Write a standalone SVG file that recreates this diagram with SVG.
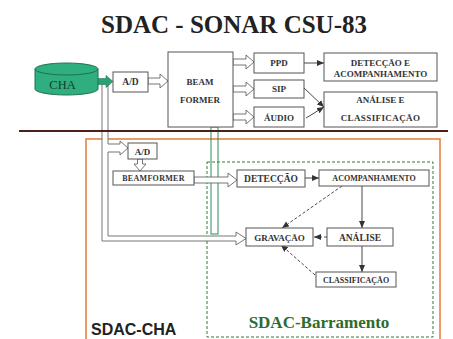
<svg xmlns="http://www.w3.org/2000/svg" width="453" height="339" viewBox="0 0 453 339">
<defs>
<marker id="ah" markerUnits="userSpaceOnUse" markerWidth="8" markerHeight="6" refX="7" refY="3" orient="auto"><path d="M0,0 L7,3 L0,6 z" fill="#333"/></marker>
<style>
.box{fill:#fff;stroke:#555;stroke-width:1}
.t{font-family:'Liberation Serif',serif;font-weight:bold;fill:#333;text-anchor:middle}
.hol{fill:#fff;stroke:#666;stroke-width:0.9}
.ln{fill:none;stroke:#333;stroke-width:0.9}
.dl{fill:none;stroke:#333;stroke-width:0.9;stroke-dasharray:3,2}
</style>
</defs>
<rect width="453" height="339" fill="#fff"/>
<text x="234" y="33" class="t" style="font-size:25px;fill:#222">SDAC - SONAR CSU-83</text>

<rect x="86" y="139" width="354" height="210" fill="none" stroke="#e5843f" stroke-width="1.6"/>
<rect x="207" y="162" width="226" height="175" fill="none" stroke="#2e7d32" stroke-width="1" stroke-dasharray="3,2"/>

<g id="connectors">
<path class="hol" d="M102,84 V241 H236 V245 L246,238.5 L236,232 V236 H108 V152 H120 V155 L128,148 L120,141 V144 H108 V84"/>
<rect x="211" y="127" width="7" height="107" fill="none" stroke="#2e8b57" stroke-width="1"/>
<path class="hol" d="M148,78 H160 V74 L168,81 L160,88 V84 H148 Z"/>
<path class="hol" d="M233,59 H246 V55 L254,62 L246,69 V65 H233 Z"/>
<path class="hol" d="M233,86 H246 V82 L254,89 L246,96 V92 H233 Z"/>
<path class="hol" d="M233,114 H246 V110 L254,117 L246,124 V120 H233 Z"/>
<path class="hol" d="M137.5,159 V164 H134 L140,171 L146,164 H142.5 V159 Z"/>
<path class="hol" d="M194,177 H228 V173 L237,180 L228,187 V183 H194 Z"/>
<path d="M97,78.5 H106 V75.5 L113,81.5 L106,87.5 V84.5 H97 Z" fill="#2aa172" stroke="#1d7a55" stroke-width="0.6"/>
<line class="ln" x1="304" y1="63" x2="324" y2="63" marker-end="url(#ah)"/>
<line class="ln" x1="304" y1="88" x2="324" y2="107" marker-end="url(#ah)"/>
<line class="ln" x1="306" y1="118" x2="324" y2="107" marker-end="url(#ah)"/>
<line class="ln" x1="305" y1="178" x2="319" y2="178" marker-end="url(#ah)"/>
<line class="ln" x1="362" y1="186" x2="362" y2="228" marker-end="url(#ah)"/>
<line class="ln" x1="362" y1="246" x2="362" y2="272" marker-end="url(#ah)"/>
<line class="dl" x1="342" y1="186" x2="282" y2="228" marker-end="url(#ah)"/>
<line class="dl" x1="327" y1="237" x2="314" y2="237" marker-end="url(#ah)"/>
<line class="dl" x1="315" y1="275" x2="281" y2="245" marker-end="url(#ah)"/>
</g>

<line x1="19" y1="131" x2="448" y2="131" stroke="#4a2018" stroke-width="2"/>

<g id="cha">
<path d="M35,69 V89 A31.5,6 0 0 0 98,89 V69" fill="#2fae80" stroke="#1d7050" stroke-width="1"/>
<ellipse cx="66.5" cy="69" rx="31.5" ry="6" fill="#2fae80" stroke="#1d7050" stroke-width="1"/>
<text x="62.5" y="89" class="t" style="font-size:12.5px;fill:#1a3a2a;font-weight:normal">CHA</text>
</g>
<g id="ad1"><rect class="box" x="113" y="72" width="35" height="20"/><text x="130.5" y="85" class="t" style="font-size:9.5px">A/D</text></g>
<g id="beamformer1"><rect class="box" x="168" y="52" width="65" height="75"/><text x="200" y="85" class="t" style="font-size:9px">BEAM</text><text x="200" y="103" class="t" style="font-size:9px">FORMER</text></g>
<g id="ppd"><rect class="box" x="254" y="53" width="50" height="20"/><text x="279" y="66" class="t" style="font-size:9px">PPD</text></g>
<g id="sip"><rect class="box" x="254" y="80" width="50" height="18"/><text x="279" y="92" class="t" style="font-size:9px">SIP</text></g>
<g id="audio"><rect class="box" x="254" y="107" width="50" height="20"/><text x="279" y="120.5" class="t" style="font-size:9px">ÁUDIO</text></g>
<g id="detacomp"><rect class="box" x="324" y="53" width="113" height="28"/><text x="380.5" y="66" class="t" style="font-size:9px">DETECÇÃO E</text><text x="380.5" y="77" class="t" style="font-size:9px">ACOMPANHAMENTO</text></g>
<g id="analclass"><rect class="box" x="324" y="92" width="113" height="35"/><text x="380.5" y="103" class="t" style="font-size:9px">ANÁLISE E</text><text x="380.5" y="121" class="t" style="font-size:9px;letter-spacing:0.4px">CLASSIFICAÇÃO</text></g>

<g id="ad2"><rect class="box" x="128" y="143" width="29" height="16"/><text x="142.5" y="154.5" class="t" style="font-size:9px">A/D</text></g>
<g id="beamformer2"><rect class="box" x="113" y="171" width="81" height="14"/><text x="153.5" y="181" class="t" style="font-size:8px;letter-spacing:0.3px">BEAMFORMER</text></g>
<g id="deteccao"><rect class="box" x="237" y="170" width="68" height="17"/><text x="271" y="182" class="t" style="font-size:9.5px">DETECÇÃO</text></g>
<g id="acomp"><rect class="box" x="319" y="170" width="110" height="16"/><text x="374" y="181" class="t" style="font-size:8px">ACOMPANHAMENTO</text></g>
<g id="gravacao"><rect class="box" x="246" y="228" width="67" height="18"/><text x="279.5" y="240.5" class="t" style="font-size:9px">GRAVAÇÃO</text></g>
<g id="analise"><rect class="box" x="327" y="228" width="66" height="18"/><text x="360" y="240.5" class="t" style="font-size:9.5px">ANÁLISE</text></g>
<g id="classif"><rect class="box" x="316" y="272" width="80" height="15"/><text x="356" y="282.5" class="t" style="font-size:8px">CLASSIFICAÇÃO</text></g>
<text x="319" y="328" class="t" style="font-size:17px;fill:#2e6b2e">SDAC-Barramento</text>

<text x="91" y="335" font-family="Liberation Sans, Arial, sans-serif" font-weight="bold" font-size="16" fill="#222">SDAC-CHA</text>
</svg>
